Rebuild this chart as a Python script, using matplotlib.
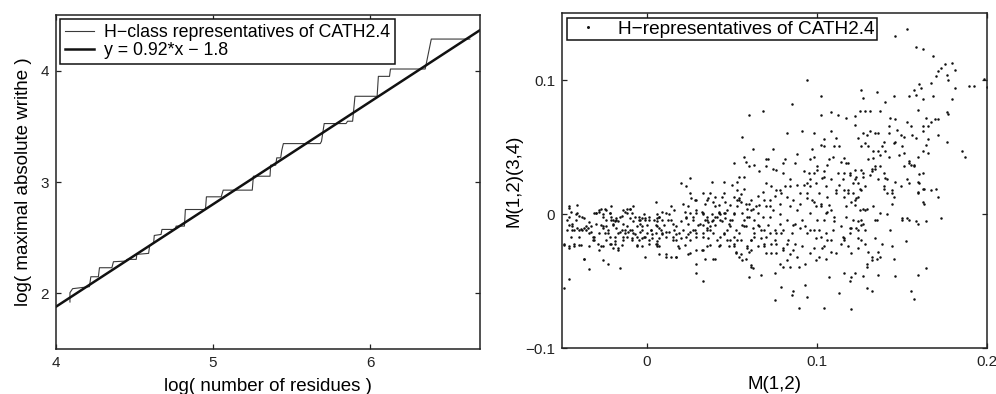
import numpy as np
import matplotlib
matplotlib.use("Agg")
import matplotlib.pyplot as plt

plt.rcParams['font.family'] = ['Liberation Sans', 'DejaVu Sans']

# ---------------- Left panel data ----------------
# staircase: log(number of residues) vs log(maximal absolute writhe)
stair_x = [4.089, 4.089, 4.106, 4.213, 4.222, 4.270, 4.277, 4.356, 4.366, 4.447,
           4.452, 4.511, 4.515, 4.590, 4.596, 4.622, 4.626, 4.669, 4.675, 4.760,
           4.765, 4.818, 4.824, 4.952, 4.958, 5.052, 5.065, 5.250, 5.257, 5.363,
           5.367, 5.399, 5.406, 5.431, 5.438, 5.448, 5.683, 5.691, 5.708, 5.847,
           5.857, 5.889, 5.896, 5.904, 6.045, 6.053, 6.124, 6.130, 6.351, 6.390,
           6.635]
stair_y = [1.922, 2.006, 2.042, 2.060, 2.149, 2.149, 2.230, 2.230, 2.284, 2.290,
           2.305, 2.305, 2.350, 2.359, 2.424, 2.454, 2.520, 2.529, 2.574, 2.574,
           2.604, 2.604, 2.753, 2.753, 2.867, 2.867, 2.927, 2.927, 3.052, 3.052,
           3.151, 3.151, 3.217, 3.217, 3.285, 3.345, 3.345, 3.366, 3.525, 3.525,
           3.546, 3.546, 3.650, 3.770, 3.770, 3.949, 3.949, 4.015, 4.015, 4.284,
           4.284]
fit_slope = 0.92
fit_intercept = -1.8
left_xlim = (4.0, 6.7)
left_ylim = (1.5, 4.5)
left_xticks = [4, 5, 6]
left_yticks = [2, 3, 4]

# ---------------- Right panel data (values in 1/1000) ----------------
m12_a = [146,153,158,162,168,175,179,173,171,176,
         181,170,167,177,160,157,161,181,189,192,
         198,200,94,102,126,127,135,145,154,158,
         162,168,179,140,125,128,131,137,112,117,
         85,68,60,102,108,122,122,143,146,142,
         153,155,159,164,167,165,169,171,176,177,
         162,171,176,185,187,165,164,165,162,156,
         151,149,147,146,145,150,142,139,138,136,
         134,131,129,127,124,126,128,130,133,136,
         137,140,142,148,151,154,154,157,159,160,
         162,158,111,110,113,108,104,104,102,98,
         97,98,91,82,88,81,80,74,70,70,
         74,66,63,60,51,58,57,56,62,57,
         54,53,50,45,38,25,20,23,25,33,
         29,35,40,45,53,51,54,55,57,58,
         61,65,68,66,69,72,75,78,81,84,
         88,92,94,96,96,95,92,98,100,104,
         106,107,109,114,116,118,119,122,123,121,
         115,112,113,116,118,116,111,106,105,103,
         99,101,107,108,102,97,99,105,104,126,
         127,128,125,124,122,129,130,133,134,132,
         139,140,136,139,141,144,144,146,149,153,
         154,159,162,163,170,171,159,158,173,150,
         153,137,134,126,127,124,128,120,119,116,
         114,110,109,108,105,104,101,99,98,96,
         93,91,87,85,82,80,78,76,75,72,
         70,68,65,63,62,60,59,56,53,51,
         49,46,43,42,40,38,37,35,33,31,
         29,27,25,24,23,20,17,14,11,9,
         7,6,5,7,9,11,13,15,17,19,
         21,23,25,27,29,33,35,36,39,41,
         43,45,47,49,51,54,55,57,59,61,
         63,65,67,69,70,69,72,73,76,78,
         80,82,84,86,88,89,93,96,99,101,
         103,105,108,111,114,118,120,124,126,128,
         130,132,132,137,136,138,144,145,152,134,
         129,129,122,120,119,116,113,107,104,94,
         93,89,86,85,79,80,75,75,61,60,
         67,61,58,56,54,52,33,29,39,35,
         32,25,17,11,7,-1,-6,-16,-23,-26,
         -34,-37,-46,-49,-46,-49,-47,-45,-44,-46,
         -46,-41,-42,-44,-40,-37,-38,-36,-34,-31,
         -33,-30,-28,-26,-24,-22,-21,-20,-18,-16,
         -14,-12,-10,-8,-7,-5,-6,-10,-13,-15,
         -17,-19,-23,-26,-28,-29,-26,-24,-22,-19,
         -17,-14,-12,-9,-8,-3,-2,0,2,4,
         1,-1,-3,-4,1,5,6,3,-3,-6,
         -21,-25,-31,-38,-43,-40,-34,-32]
m1234_a = [133,138,125,123,118,112,113,109,107,104,
           108,103,98,100,97,93,94,94,96,96,
           101,95,100,88,93,87,91,88,88,89,
           86,88,86,84,77,77,77,77,74,72,
           82,77,74,74,76,67,73,72,71,66,
           69,66,78,72,69,66,71,71,76,75,
           66,59,54,47,43,56,52,46,62,59,
           58,59,63,54,53,51,61,54,51,61,
           61,62,59,61,57,51,53,51,47,47,
           44,47,43,44,46,38,40,37,43,30,
           47,57,57,51,51,62,56,51,52,61,
           49,43,62,61,45,41,38,49,41,36,
           34,32,37,36,38,39,43,58,49,28,
           28,24,22,24,24,27,23,21,16,16,
           11,11,13,16,18,13,11,15,19,8,
           11,14,17,7,11,6,14,18,21,21,
           22,22,16,21,26,31,32,31,33,32,
           37,41,43,39,42,38,31,33,28,23,
           26,31,22,18,16,13,16,13,21,27,
           23,16,7,3,8,11,6,1,-4,33,
           28,21,19,13,11,4,41,42,36,32,
           31,27,26,21,16,16,8,24,21,26,
           23,17,9,19,19,13,24,-5,-3,-3,
           -3,1,-4,-4,-7,-12,-12,-10,-14,-18,
           -9,-5,-12,-19,-14,-24,-12,-18,-25,-12,
           -9,-4,-7,-14,-22,-12,-7,-14,-19,-2,
           6,-2,1,-4,-10,-2,4,1,6,1,
           -4,1,-4,1,-2,-5,-9,-4,1,-7,
           1,-4,1,6,-2,-5,-9,-4,1,-4,
           -2,-3,-8,-10,-14,-17,-13,-17,-19,-14,
           -12,-17,-19,-12,-14,-17,-12,-18,-14,-19,
           -23,-14,-12,-19,-24,-14,-19,-9,-24,-19,
           -17,-24,-18,-22,-29,-12,-14,-22,-29,-37,
           -25,-34,-39,-27,-32,-39,-37,-29,-34,-32,
           -25,-33,-28,-29,-22,-24,-29,-25,-19,-22,
           -28,-34,-32,-32,-28,-22,-24,-33,-20,-18,
           -39,-37,-44,-47,-50,-44,-59,-47,-70,-62,
           -53,-70,-57,-60,-54,-39,-44,-64,-39,-47,
           -45,-27,-33,-34,-32,-29,-50,-44,-33,-24,
           -27,-29,-32,-32,-30,-32,-23,-40,-37,-34,
           -41,-33,-48,-55,-24,-23,-12,-17,-9,-2,
           6,1,-4,-12,-12,-10,-2,-9,-14,-17,
           -9,1,3,-2,-4,1,-4,-7,-4,-2,
           3,1,4,6,-2,-4,-9,-12,-14,-12,
           -14,-17,-14,-9,-14,-22,-24,-19,-22,-22,
           -25,-19,-17,-19,-14,-12,-17,-14,-12,-4,
           -2,-4,-3,-7,-22,-22,-24,-18,-24,-17,
           6,4,1,-12,-22,-23,-24,-19]

m12_b = [-46,-45,-41,-42,-40,-47,-46,-44,-43,-41,
         -39,-40,-43,-46,-49,-39,-37,-37,-36,-35,
         -34,-33,-32,-31,-30,-30,-28,-27,-26,-27,
         -26,-24,-25,-23,-22,-24,-22,-21,-20,-19,
         -18,-17,-20,-18,-16,-21,-20,-28,-27,-19,
         -17,-15,-14,-13,-12,-14,-15,-13,-12,-10,
         -9,-10,-8,-9,-7,-5,-6,-9,-11,-4,
         -3,-4,-5,-2,-1,1,0,2,1,3,
         5,6,6,6,5,7,9,8,7,6,
         7,6,9,11,10,12,13,14,16,15,
         16,17,15,18,11,14,17,21,22,23,
         24,25,24,20,22,19,26,28,29,27,
         30,28,29,29,24,29,-1,-3]
m1234_b = [5,2,7,0,-1,-4,-8,-7,-12,-10,
           -11,-17,-24,-25,-22,-23,-33,-3,-12,-10,
           -6,-13,-17,-19,-7,1,2,4,0,-8,
           -10,-9,-14,-12,-17,3,1,-2,-4,-5,
           -3,-5,-8,-10,-13,-22,-25,-27,-24,-20,
           -27,-23,-17,-12,-9,-7,-1,2,4,4,
           1,-3,-5,-12,-15,-19,-24,-18,-13,-13,
           -9,-4,-2,0,-3,-4,-8,-12,-19,-15,
           -14,-9,-5,0,9,-2,2,-12,-18,-22,
           -24,-20,-15,-13,-8,-4,0,6,3,-7,
           -12,-15,-19,-24,-30,-32,-32,8,2,-3,
           -7,-13,-15,-18,-23,-25,12,11,3,-2,
           -8,-12,-17,-27,-30,-37,-17,-18]

m12_c = [32,33,34,35,36,33,35,37,33,38,
         39,40,41,42,43,44,45,46,47,48,
         49,50,51,52,53,54,55,39,40,42,
         37,36,34,44,46,49,51,53,43,45,
         47,42,37,33,40,34,56,58,57,59,
         61,62,64,60,65,66,67,63,61,59,
         60,55,52,61,62,51,48]
m1234_c = [2,0,-4,-2,-6,-8,-10,-12,-14,0,
           -4,-8,-2,2,0,-5,1,-3,3,-7,
           -9,-4,0,-12,11,12,9,9,6,7,
           16,12,8,13,9,7,-17,-19,-17,-15,
           -19,-24,-23,-27,-33,-33,-8,-9,-4,-2,
           3,4,6,8,-8,-9,-12,-14,-19,-25,
           -28,-30,-28,-38,-40,-22,-24]

m12_d = [70,73,76,79,82,86,90,94,98,102,
         106,110,74,78,82,86,90,94,98,102,
         106,90,84,80,76,71,87,96,100,104,
         108,111,94,96,100,88,84,78,72,71,
         75,79,83,87,91,70,76,80,84,73,
         69]
m1234_d = [23,21,18,16,13,11,8,12,9,6,
           2,-2,3,0,-4,-8,-10,-14,-12,-17,
           -19,16,26,31,33,41,38,41,36,28,
           26,18,23,1,-4,3,6,8,11,-8,
           -12,-14,-19,-22,-24,-17,-22,-27,-30,-29,
           -24]

m12_e = [117,116,119,122,124,126,118,121,123,120,
         117,122,125,127,128,117,121,124,126,119,
         123,115,116,124,135,133,127,131,132,134,
         137,141,139,144,145,141,143,150,154,159,
         164,160,162,167,159,163,162,155,151,157,
         135,127,136,146,159,129,132,155,157,120,
         164]
m1234_e = [38,31,29,26,23,18,18,16,12,9,
           6,7,3,4,3,-2,-4,-5,-8,-10,
           -10,-17,-19,-18,-4,6,31,29,34,34,
           36,26,19,18,13,0,-12,-4,-4,-7,
           -5,23,19,18,16,8,31,37,36,36,
           -33,-46,-45,-46,-45,-55,-57,-57,-63,-71,
           -40]

right_xlim = (-0.05, 0.2)
right_ylim = (-0.1, 0.15)
right_xticks = [0, 0.1, 0.2]
right_yticks = [-0.1, 0, 0.1]
right_xticklabels = ['0', '0.1', '0.2']
right_yticklabels = ['\u22120.1', '0', '0.1']

m12 = np.array(m12_a + m12_b + m12_c + m12_d + m12_e) / 1000.0
m1234 = np.array(m1234_a + m1234_b + m1234_c + m1234_d + m1234_e) / 1000.0

# ---------------- Figure ----------------
fig = plt.figure(figsize=(9.96, 3.94), dpi=100)
axL = fig.add_axes([0.0562, 0.1142, 0.4257, 0.8477])
axR = fig.add_axes([0.5643, 0.1160, 0.4270, 0.8503])

def style(ax):
    for s in ax.spines.values():
        s.set_linewidth(1.1)
        s.set_color('#222222')
    ax.tick_params(direction='in', top=True, right=True, length=3.5,
                   width=0.9, labelsize=11, colors='#222222', pad=5)

# Left
style(axL)
axL.plot(stair_x, stair_y, color='#3a3a3a', lw=0.8,
         label='H\u2212class representatives of CATH2.4')
fx = np.array(left_xlim)
axL.plot(fx, fit_slope * fx + fit_intercept, color='#111111', lw=1.8,
         label='y = 0.92*x \u2212 1.8')
axL.set_xlim(*left_xlim)
axL.set_ylim(*left_ylim)
axL.set_xticks(left_xticks)
axL.set_yticks(left_yticks)
axL.set_xlabel('log( number of residues )', fontsize=13.5)
axL.set_ylabel('log( maximal absolute writhe )', fontsize=13.5)
axL.xaxis.set_label_coords(0.5, -0.088)
axL.yaxis.set_label_coords(-0.057, 0.5)
legL = axL.legend(loc='upper left', bbox_to_anchor=(0.009, 0.988),
                  borderaxespad=0, fancybox=False, framealpha=1,
                  edgecolor='#111111', fontsize=12.8, handlelength=1.65,
                  handletextpad=0.55, labelspacing=0.08, borderpad=0.28)
legL.get_frame().set_linewidth(1.1)

# Right
style(axR)
axR.plot(m12, m1234, linestyle='none', marker='o', markersize=1.8,
         markeredgewidth=0, color='#111111',
         label='H\u2212representatives of CATH2.4')
axR.set_xlim(*right_xlim)
axR.set_ylim(*right_ylim)
axR.set_xticks(right_xticks)
axR.set_xticklabels(right_xticklabels)
axR.set_yticks(right_yticks)
axR.set_yticklabels(right_yticklabels)
axR.set_xlabel('M(1,2)', fontsize=13.5)
axR.set_ylabel('M(1,2)(3,4)', fontsize=13.5)
axR.xaxis.set_label_coords(0.5, -0.084)
axR.yaxis.set_label_coords(-0.092, 0.5)
legR = axR.legend(loc='upper left', bbox_to_anchor=(0.012, 0.986),
                  borderaxespad=0, fancybox=False, framealpha=1,
                  edgecolor='#111111', fontsize=13.7, handlelength=2.0,
                  handletextpad=0.55, borderpad=0.12, markerscale=1.2)
legR.get_frame().set_linewidth(1.1)

fig.savefig('out.png', dpi=100)
